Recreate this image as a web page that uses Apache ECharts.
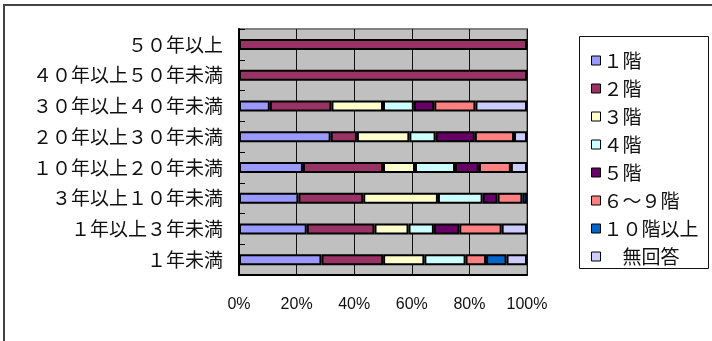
<!DOCTYPE html>
<html>
<head>
<meta charset="utf-8">
<script src="https://cdn.jsdelivr.net/npm/echarts@6/dist/echarts.min.js"></script>
<style>
html,body{margin:0;padding:0;background:#fff;}
#c{width:712px;height:341px;}
</style>
</head>
<body>
<div id="c"></div>
<script>
const categories = ['１年未満','１年以上３年未満','３年以上１０年未満','１０年以上２０年未満','２０年以上３０年未満','３０年以上４０年未満','４０年以上５０年未満','５０年以上'];
const seriesNames = ['１階','２階','３階','４階','５階','６～９階','１０階以上','　無回答'];
const floor1  = [28.6, 23.5, 20.6, 22.2, 31.8, 10.7, 0, 0];
const floor2  = [21.4, 23.5, 22.5, 27.8,  9.1, 21.4, 100, 100];
const floor3  = [14.3, 11.8, 25.9, 11.1, 18.2, 17.9, 0, 0];
const floor4  = [14.3,  8.8, 15.5, 13.9,  9.1, 10.7, 0, 0];
const floor5  = [ 0.0,  8.8,  5.2,  8.3, 13.6,  7.1, 0, 0];
const floor6to9 = [7.1, 14.7, 8.6, 11.1, 13.6, 14.3, 0, 0];
const floor10up = [7.1,  0.0, 1.6,  0.0,  0.0,  0.0, 0, 0];
const noAnswer  = [7.1,  8.8, 0.0,  5.6,  4.5, 17.9, 0, 0];
const xTicks = [0, 20, 40, 60, 80, 100];

const colors = ['#9999FF','#993366','#FFFFCC','#CCFFFF','#660066','#FF8080','#0066CC','#CCCCFF'];
const allSeries = [floor1, floor2, floor3, floor4, floor5, floor6to9, floor10up, noAnswer];
const totals = categories.map((_, i) => allSeries.reduce((s, a) => s + a[i], 0));

const chart = echarts.init(document.getElementById('c'));
chart.setOption({
  animation: false,
  color: colors,
  grid: {left: 239, right: 185, top: 29, bottom: 66, show: true, backgroundColor: '#C0C0C0', borderColor: '#808080', borderWidth: 2},
  legend: {
    orient: 'vertical', left: 586, top: 46, itemWidth: 9, itemHeight: 9, itemGap: 9, icon: 'rect',
    itemStyle: {borderColor: '#000', borderWidth: 1},
    textStyle: {fontFamily: 'Noto Sans CJK JP', fontSize: 19, lineHeight: 19, color: '#111', padding: [0,0,0,-2]},
    data: seriesNames
  },
  graphic: [
    {type: 'rect', shape: {x: 4, y: 5, width: 760, height: 400}, style: {fill: 'none', stroke: '#444', lineWidth: 2}, silent: true},
    {type: 'rect', shape: {x: 579.5, y: 36.5, width: 129, height: 232}, style: {fill: 'none', stroke: '#111', lineWidth: 1}, silent: true}
  ],
  xAxis: {
    type: 'value', min: xTicks[0], max: xTicks[xTicks.length-1], interval: 20,
    axisLine: {show: true, lineStyle: {color: '#000', width: 2}},
    axisTick: {show: false},
    splitLine: {show: true, lineStyle: {color: '#111', width: 1}},
    axisLabel: {formatter: '{value}%', fontFamily: 'Liberation Sans', fontSize: 16, color: '#111', margin: 22}
  },
  yAxis: {
    type: 'category', data: categories,
    axisLine: {show: true, lineStyle: {color: '#000', width: 2}},
    axisTick: {show: true, inside: true, length: 6, lineStyle: {color: '#000', width: 1}},
    splitLine: {show: false},
    axisLabel: {fontFamily: 'Noto Sans CJK JP', fontSize: 19, color: '#111', margin: 16}
  },
  series: allSeries.map((arr, k) => ({
    name: seriesNames[k], type: 'bar', stack: 'all', barWidth: 11,
    itemStyle: {color: colors[k], borderColor: '#000', borderWidth: 2},
    data: arr.map((v, i) => v > 0 ? v / totals[i] * 100 : '-')
  }))
});
</script>
</body>
</html>
